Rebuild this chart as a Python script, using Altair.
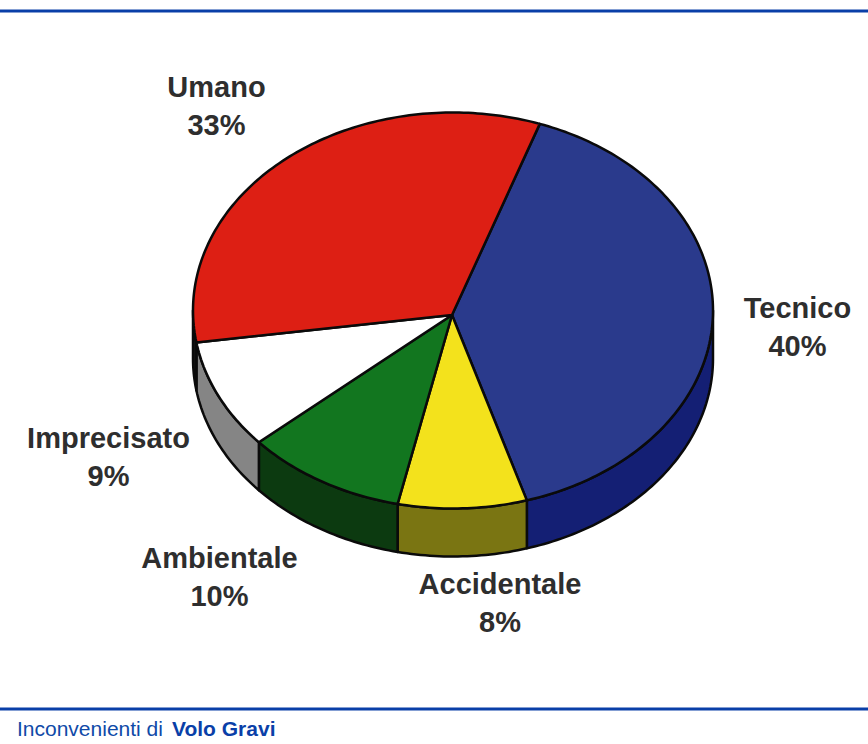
import math
import altair as alt

# Share of serious incidents by cause, clockwise from the Umano/Tecnico boundary
categories = ["Tecnico", "Accidentale", "Ambientale", "Imprecisato", "Umano"]
shares = [40, 8, 10, 9, 33]

top_colours = ["#2a3a8c", "#f3e21c", "#12761f", "#ffffff", "#dd1f14"]
side_colours = ["#141f74", "#7a7512", "#0c3a10", "#858585", "#141414"]

# Projected disc: rim centre, radii, rim depth and the point the slices meet, in page pixels
CX, CY, RX, RY, DEPTH = 453, 310.5, 260, 198, 48
APEX = [452, 315]
START_ANGLE = 19.5

# Centre of each two-line label in page pixels
label_centres = {
    "Tecnico": (797.5, 328),
    "Accidentale": (500, 604),
    "Ambientale": (219.5, 578),
    "Imprecisato": (108.5, 458),
    "Umano": (216.5, 107),
}


def rim_point(angle, drop=0):
    a = math.radians(angle)
    return [CX + RX * math.sin(a), CY - RY * math.cos(a) + drop]


def arc(a0, a1, drop=0):
    steps = max(2, int(abs(a1 - a0)))
    return [rim_point(a0 + (a1 - a0) * i / steps, drop) for i in range(steps + 1)]


def feature(ring, fill):
    return {
        "type": "Feature",
        "properties": {"fill": fill},
        "geometry": {"type": "Polygon", "coordinates": [ring + [ring[0]]]},
    }


wedges, rims = [], []
angle = START_ANGLE
for share, top, side in zip(shares, top_colours, side_colours):
    end = angle + share * 3.6
    wedges.append(feature([APEX] + arc(angle, end), top))
    # Only the part of the rim facing the viewer gets a side wall
    for lo, hi in ((angle, end), (angle - 360, end - 360)):
        a0, a1 = max(lo, 90), min(hi, 270)
        if a0 < a1:
            rims.append(feature(arc(a0, a1) + arc(a1, a0, DEPTH), side))
    angle = end


def shapes(features, width):
    return (
        alt.Chart(alt.Data(values=features))
        .mark_geoshape(stroke="#0a0a0a", strokeWidth=width, strokeJoin="round")
        .encode(color=alt.Color("properties.fill:N", scale=None))
        .project(type="identity", scale=1, translate=[0, 0])
    )


def rule(y):
    return (
        alt.Chart(alt.Data(values=[{"k": 1}]))
        .mark_rule(color="#0a3fa8", strokeWidth=3)
        .encode(x=alt.value(0), x2=alt.value(868), y=alt.value(y))
    )


def label_text(text, x, y, **style):
    return (
        alt.Chart(alt.Data(values=[{"t": text}]))
        .mark_text(**style)
        .encode(text="t:N", x=alt.value(x), y=alt.value(y))
    )


labels = []
for name, share in zip(categories, shares):
    x, y = label_centres[name]
    common = dict(font="Liberation Sans", fontSize=29, fontWeight="bold", color="#2e2e2e", align="center", baseline="middle")
    labels.append(label_text(name, x, y - 19, **common))
    labels.append(label_text(f"{share}%", x, y + 19, **common))

footer_style = dict(font="Liberation Sans", fontSize=21, align="left", baseline="middle")
footer = [
    label_text("Inconvenienti di", 17, 730, color="#0f4aa8", **footer_style),
    label_text("Volo Gravi", 172, 730, color="#0a3fa8", fontWeight="bold", **footer_style),
]

chart = alt.layer(
    shapes(rims, 2.5),
    shapes(wedges, 2.5),
    rule(11),
    rule(709),
    *labels,
    *footer,
).properties(
    width=868,
    height=744,
    padding=0,
    autosize=alt.AutoSizeParams(type="none"),
    background="#ffffff",
).configure_view(stroke=None)

chart.save("out.html", embed_options={"renderer": "svg", "actions": False})
